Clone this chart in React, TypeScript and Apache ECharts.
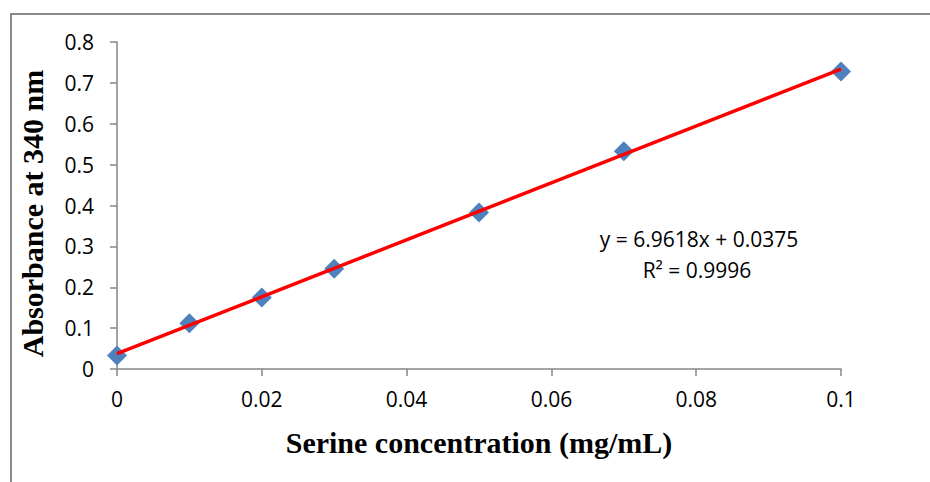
import React, { useEffect, useRef } from "react";
import * as echarts from "echarts";

const concentration = [0, 0.01, 0.02, 0.03, 0.05, 0.07, 0.1];
const absorbance = [0.033, 0.112, 0.175, 0.245, 0.383, 0.533, 0.728];
const trendEndpoints: [number, number][] = [
  [0, 0.0375],
  [0.1, 0.7337],
];
const equationText = "y = 6.9618x + 0.0375";
const r2Text = "R² = 0.9996";
const xTitle = "Serine concentration (mg/mL)";
const yTitle = "Absorbance at 340 nm";

const tickFont = "'Open Sans', 'Noto Sans', sans-serif";
const titleFont = "'Liberation Serif', 'DejaVu Serif', serif";

export default function App() {
  const ref = useRef<HTMLDivElement>(null);
  useEffect(() => {
    if (!ref.current) return;
    const chart = echarts.init(ref.current, null, { renderer: "svg" });
    chart.setOption({
      animation: false,
      backgroundColor: "#ffffff",
      grid: { left: 117, right: 89, top: 42, bottom: 113, containLabel: false },
      xAxis: {
        type: "value",
        min: 0,
        max: 0.1,
        interval: 0.02,
        splitLine: { show: false },
        axisLine: { show: true, onZero: false, lineStyle: { color: "#868686", width: 1.5 } },
        axisTick: { show: true, length: 7, lineStyle: { color: "#868686", width: 1.5 } },
        axisLabel: {
          color: "#000",
          fontFamily: tickFont,
          fontSize: 21,
          margin: 19,
          formatter: (v: number) => String(Number(v.toFixed(2))),
        },
        name: xTitle,
        nameLocation: "middle",
        nameGap: 58,
        nameTextStyle: { fontFamily: titleFont, fontWeight: "bold", fontSize: 30, color: "#000" },
      },
      yAxis: {
        type: "value",
        min: 0,
        max: 0.8,
        interval: 0.1,
        splitLine: { show: false },
        axisLine: { show: true, lineStyle: { color: "#868686", width: 1.5 } },
        axisTick: { show: true, length: 7, lineStyle: { color: "#868686", width: 1.5 } },
        axisLabel: {
          color: "#000",
          fontFamily: tickFont,
          fontSize: 21,
          margin: 23,
          formatter: (v: number) => String(Number(v.toFixed(1))),
        },
        name: yTitle,
        nameLocation: "middle",
        nameGap: 70,
        nameRotate: 90,
        nameTextStyle: {
          fontFamily: titleFont,
          fontWeight: "bold",
          fontSize: 30,
          color: "#000",
          padding: [0, 16, 0, 0],
        },
      },
      series: [
        {
          type: "scatter",
          data: concentration.map((c, i) => [c, absorbance[i]]),
          symbol: "diamond",
          symbolSize: 20,
          itemStyle: { color: "#4F81BD", opacity: 1 },
          z: 2,
        },
        {
          type: "line",
          data: trendEndpoints,
          symbol: "none",
          lineStyle: { color: "#FF0000", width: 3.5 },
          z: 3,
        },
      ],
      graphic: [
        {
          type: "rect",
          shape: { x: 11, y: 14, width: 940, height: 500 },
          style: { fill: "none", stroke: "#888888", lineWidth: 2 },
          silent: true,
        },
        {
          type: "text",
          x: 699,
          y: 239,
          style: {
            text: equationText,
            font: `21px ${tickFont}`,
            fill: "#000",
            align: "center",
            verticalAlign: "middle",
          },
        },
        {
          type: "text",
          x: 697,
          y: 270,
          style: {
            text: r2Text,
            font: `21px ${tickFont}`,
            fill: "#000",
            align: "center",
            verticalAlign: "middle",
          },
        },
      ],
    });
    return () => chart.dispose();
  }, []);
  return (
    <div
      ref={ref}
      style={{ position: "fixed", left: 0, top: 0, width: 930, height: 482, background: "#fff" }}
    />
  );
}
